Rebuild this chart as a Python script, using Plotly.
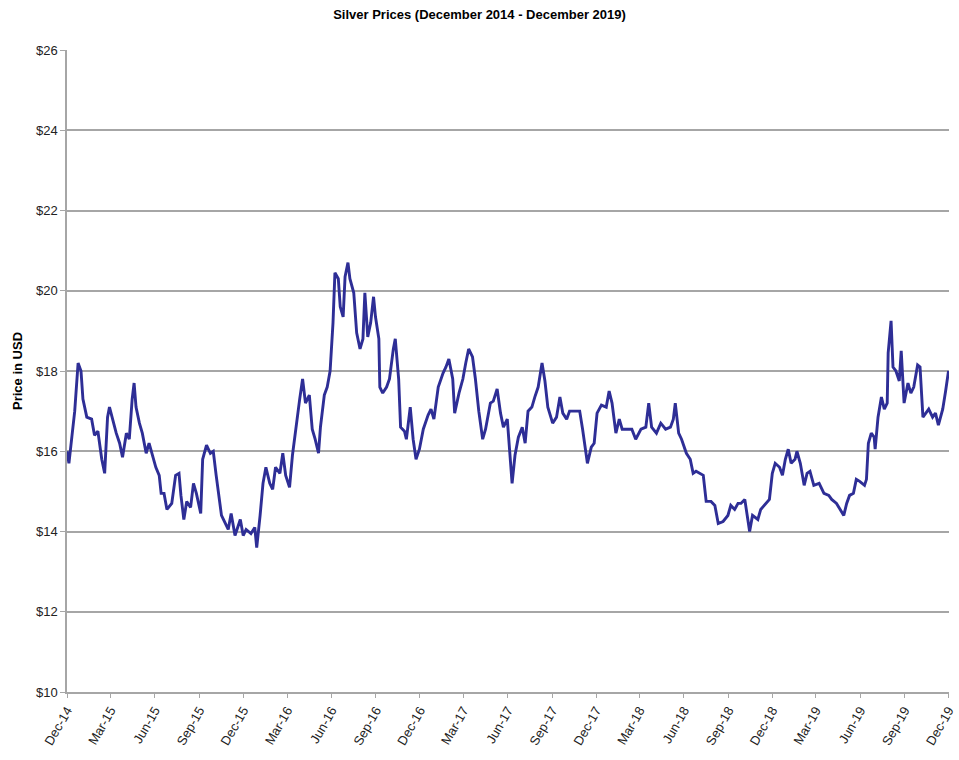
import plotly.graph_objects as go

title_text = "Silver Prices (December 2014 - December 2019)"
y_title = "Price in USD"

dates = [
    "2014-12-01", "2014-12-05", "2014-12-11", "2014-12-17", "2014-12-24", "2014-12-30",
    "2015-01-03", "2015-01-11", "2015-01-21", "2015-01-27", "2015-02-03", "2015-02-11",
    "2015-02-17", "2015-02-23", "2015-02-27", "2015-03-05", "2015-03-13", "2015-03-20",
    "2015-03-26", "2015-04-03", "2015-04-09", "2015-04-15", "2015-04-19", "2015-04-23",
    "2015-04-30", "2015-05-06", "2015-05-14", "2015-05-20", "2015-05-26", "2015-06-03",
    "2015-06-10", "2015-06-14", "2015-06-20", "2015-06-26", "2015-07-06", "2015-07-14",
    "2015-07-21", "2015-07-25", "2015-07-31", "2015-08-06", "2015-08-14", "2015-08-20",
    "2015-08-26", "2015-09-04", "2015-09-08", "2015-09-16", "2015-09-24", "2015-09-30",
    "2015-10-06", "2015-10-11", "2015-10-17", "2015-10-25", "2015-10-31", "2015-11-06",
    "2015-11-14", "2015-11-25", "2015-12-01", "2015-12-07", "2015-12-17", "2015-12-25",
    "2015-12-29", "2016-01-05", "2016-01-11", "2016-01-17", "2016-01-25", "2016-01-31",
    "2016-02-06", "2016-02-15", "2016-02-21", "2016-02-27", "2016-03-06", "2016-03-12",
    "2016-03-18", "2016-03-27", "2016-04-02", "2016-04-08", "2016-04-16", "2016-04-22",
    "2016-04-28", "2016-05-05", "2016-05-09", "2016-05-17", "2016-05-23", "2016-05-29",
    "2016-06-04", "2016-06-08", "2016-06-15", "2016-06-19", "2016-06-25", "2016-06-29",
    "2016-07-05", "2016-07-09", "2016-07-17", "2016-07-23", "2016-07-30", "2016-08-05",
    "2016-08-09", "2016-08-15", "2016-08-21", "2016-08-27", "2016-08-31", "2016-09-07",
    "2016-09-09", "2016-09-15", "2016-09-23", "2016-09-29", "2016-10-07", "2016-10-11",
    "2016-10-18", "2016-10-22", "2016-10-30", "2016-11-03", "2016-11-11", "2016-11-17",
    "2016-11-23", "2016-11-30", "2016-12-08", "2016-12-18", "2016-12-24", "2016-12-30",
    "2017-01-08", "2017-01-18", "2017-01-24", "2017-01-30", "2017-02-07", "2017-02-11",
    "2017-02-20", "2017-02-28", "2017-03-06", "2017-03-12", "2017-03-20", "2017-03-26",
    "2017-04-02", "2017-04-10", "2017-04-16", "2017-04-26", "2017-05-02", "2017-05-10",
    "2017-05-17", "2017-05-23", "2017-05-31", "2017-06-06", "2017-06-10", "2017-06-16",
    "2017-06-23", "2017-07-01", "2017-07-07", "2017-07-13", "2017-07-21", "2017-07-27",
    "2017-08-03", "2017-08-11", "2017-08-17", "2017-08-23", "2017-09-02", "2017-09-10",
    "2017-09-17", "2017-09-23", "2017-10-01", "2017-10-07", "2017-10-17", "2017-10-28",
    "2017-11-03", "2017-11-11", "2017-11-13", "2017-11-21", "2017-11-27", "2017-12-03",
    "2017-12-12", "2017-12-22", "2017-12-28", "2018-01-03", "2018-01-11", "2018-01-18",
    "2018-01-24", "2018-02-03", "2018-02-13", "2018-02-21", "2018-03-04", "2018-03-14",
    "2018-03-20", "2018-03-26", "2018-04-05", "2018-04-14", "2018-04-24", "2018-05-04",
    "2018-05-10", "2018-05-14", "2018-05-21", "2018-05-27", "2018-06-06", "2018-06-14",
    "2018-06-20", "2018-06-26", "2018-07-11", "2018-07-17", "2018-07-27", "2018-08-04",
    "2018-08-11", "2018-08-21", "2018-08-31", "2018-09-06", "2018-09-14", "2018-09-21",
    "2018-09-27", "2018-10-05", "2018-10-11", "2018-10-15", "2018-10-21", "2018-11-01",
    "2018-11-07", "2018-11-17", "2018-11-25", "2018-12-01", "2018-12-07", "2018-12-16",
    "2018-12-22", "2018-12-28", "2019-01-03", "2019-01-09", "2019-01-17", "2019-01-21",
    "2019-01-28", "2019-02-05", "2019-02-11", "2019-02-17", "2019-02-25", "2019-03-08",
    "2019-03-18", "2019-03-28", "2019-04-03", "2019-04-13", "2019-04-20", "2019-04-28",
    "2019-05-04", "2019-05-10", "2019-05-18", "2019-05-24", "2019-05-31", "2019-06-10",
    "2019-06-14", "2019-06-18", "2019-06-24", "2019-06-30", "2019-07-02", "2019-07-08",
    "2019-07-15", "2019-07-21", "2019-07-27", "2019-07-29", "2019-08-04", "2019-08-08",
    "2019-08-14", "2019-08-21", "2019-08-25", "2019-08-31", "2019-09-08", "2019-09-14",
    "2019-09-20", "2019-09-28", "2019-10-03", "2019-10-09", "2019-10-15", "2019-10-21",
    "2019-10-29", "2019-11-04", "2019-11-10", "2019-11-19", "2019-11-25", "2019-12-01",
]

prices = [
    16.0, 15.7, 16.35, 17.0, 18.2, 18.0,
    17.3, 16.85, 16.8, 16.4, 16.5, 15.8,
    15.45, 16.85, 17.1, 16.8, 16.45, 16.2,
    15.85, 16.45, 16.3, 17.3, 17.7, 17.1,
    16.7, 16.45, 15.95, 16.2, 15.95, 15.6,
    15.4, 14.95, 14.95, 14.55, 14.7, 15.4,
    15.45, 14.9, 14.3, 14.75, 14.6, 15.2,
    14.95, 14.45, 15.8, 16.15, 15.95, 16.0,
    15.4, 14.95, 14.4, 14.2, 14.05, 14.45,
    13.9, 14.3, 13.9, 14.05, 13.95, 14.1,
    13.6, 14.4, 15.2, 15.6, 15.2, 15.05,
    15.6, 15.45, 15.95, 15.4, 15.1, 15.9,
    16.5, 17.3, 17.8, 17.2, 17.4, 16.55,
    16.3, 15.95, 16.6, 17.4, 17.6, 18.0,
    19.2, 20.45, 20.3, 19.6, 19.35, 20.35,
    20.7, 20.3, 19.95, 18.95, 18.55, 18.8,
    19.95, 18.85, 19.2, 19.85, 19.35, 18.8,
    17.6, 17.45, 17.6, 17.8, 18.55, 18.8,
    17.8, 16.6, 16.5, 16.3, 17.1, 16.3,
    15.8, 16.05, 16.55, 16.9, 17.05, 16.8,
    17.6, 17.95, 18.1, 18.3, 17.8, 16.95,
    17.45, 17.8, 18.2, 18.55, 18.35, 17.8,
    17.0, 16.3, 16.55, 17.2, 17.25, 17.55,
    16.95, 16.6, 16.8, 15.95, 15.2, 15.9,
    16.35, 16.6, 16.2, 17.0, 17.1, 17.35,
    17.6, 18.2, 17.75, 17.1, 16.7, 16.85,
    17.35, 16.95, 16.8, 17.0, 17.0, 17.0,
    16.55, 15.95, 15.7, 16.1, 16.2, 16.95,
    17.15, 17.1, 17.5, 17.2, 16.45, 16.8,
    16.55, 16.55, 16.55, 16.3, 16.55, 16.6,
    17.2, 16.6, 16.45, 16.7, 16.55, 16.6,
    16.8, 17.2, 16.45, 16.3, 15.95, 15.8,
    15.45, 15.5, 15.4, 14.75, 14.75, 14.65,
    14.2, 14.25, 14.4, 14.65, 14.55, 14.7,
    14.7, 14.8, 14.3, 14.0, 14.4, 14.3,
    14.55, 14.7, 14.8, 15.45, 15.7, 15.6,
    15.4, 15.8, 16.05, 15.7, 15.8, 16.0,
    15.7, 15.15, 15.45, 15.5, 15.15, 15.2,
    14.95, 14.9, 14.8, 14.7, 14.55, 14.4,
    14.7, 14.9, 14.95, 15.3, 15.25, 15.15,
    15.3, 16.2, 16.45, 16.35, 16.05, 16.85,
    17.35, 17.05, 17.2, 18.45, 19.25, 18.1,
    18.0, 17.75, 18.5, 17.2, 17.7, 17.45,
    17.6, 18.15, 18.1, 16.85, 16.95, 17.05,
    16.85, 16.95, 16.65, 17.05, 17.5, 18.0,
]

FONT = "Liberation Sans, Arial, sans-serif"

fig = go.Figure()
fig.add_trace(go.Scatter(
    x=dates, y=prices, mode="lines",
    line=dict(color="#2e2e96", width=2.9),
    showlegend=False,
))

fig.update_layout(
    width=959, height=760,
    margin=dict(l=67, r=10, t=50, b=68),
    paper_bgcolor="white", plot_bgcolor="white",
    font=dict(family=FONT, size=12, color="black"),
    title=dict(text="<b>" + title_text + "</b>", x=0.5, xanchor="center", y=0.981, yanchor="middle",
               font=dict(family=FONT, size=13, color="black")),
    xaxis=dict(
        type="date",
        range=["2014-12-01", "2019-12-02"],
        tick0="2014-12-01", dtick="M3", tickformat="%b-%y",
        tickangle=-60,
        ticklabeloverflow="allow",
        showgrid=False, zeroline=False,
        showline=True, linecolor="#a6a6a6", linewidth=1.5,
        ticks="outside", ticklen=4, tickcolor="#a6a6a6", tickwidth=1,
        tickfont=dict(family=FONT, size=13, color="#222222"),
        automargin=False,
    ),
    yaxis=dict(
        range=[10, 26], dtick=2, tick0=10, tickprefix="$",
        showgrid=True, gridcolor="#a6a6a6", gridwidth=1.5,
        zeroline=False,
        showline=True, linecolor="#a6a6a6", linewidth=1.5,
        ticks="outside", ticklen=5, tickcolor="#a6a6a6", tickwidth=1,
        tickfont=dict(family=FONT, size=13, color="#222222"),
        title=dict(text="<b>" + y_title + "</b>", font=dict(family=FONT, size=13), standoff=10),
        automargin=False,
    ),
)

fig.write_html(
    "out.html",
    config={"displayModeBar": False},
    post_script="document.body.style.margin='0';document.body.style.overflow='hidden';",
)
